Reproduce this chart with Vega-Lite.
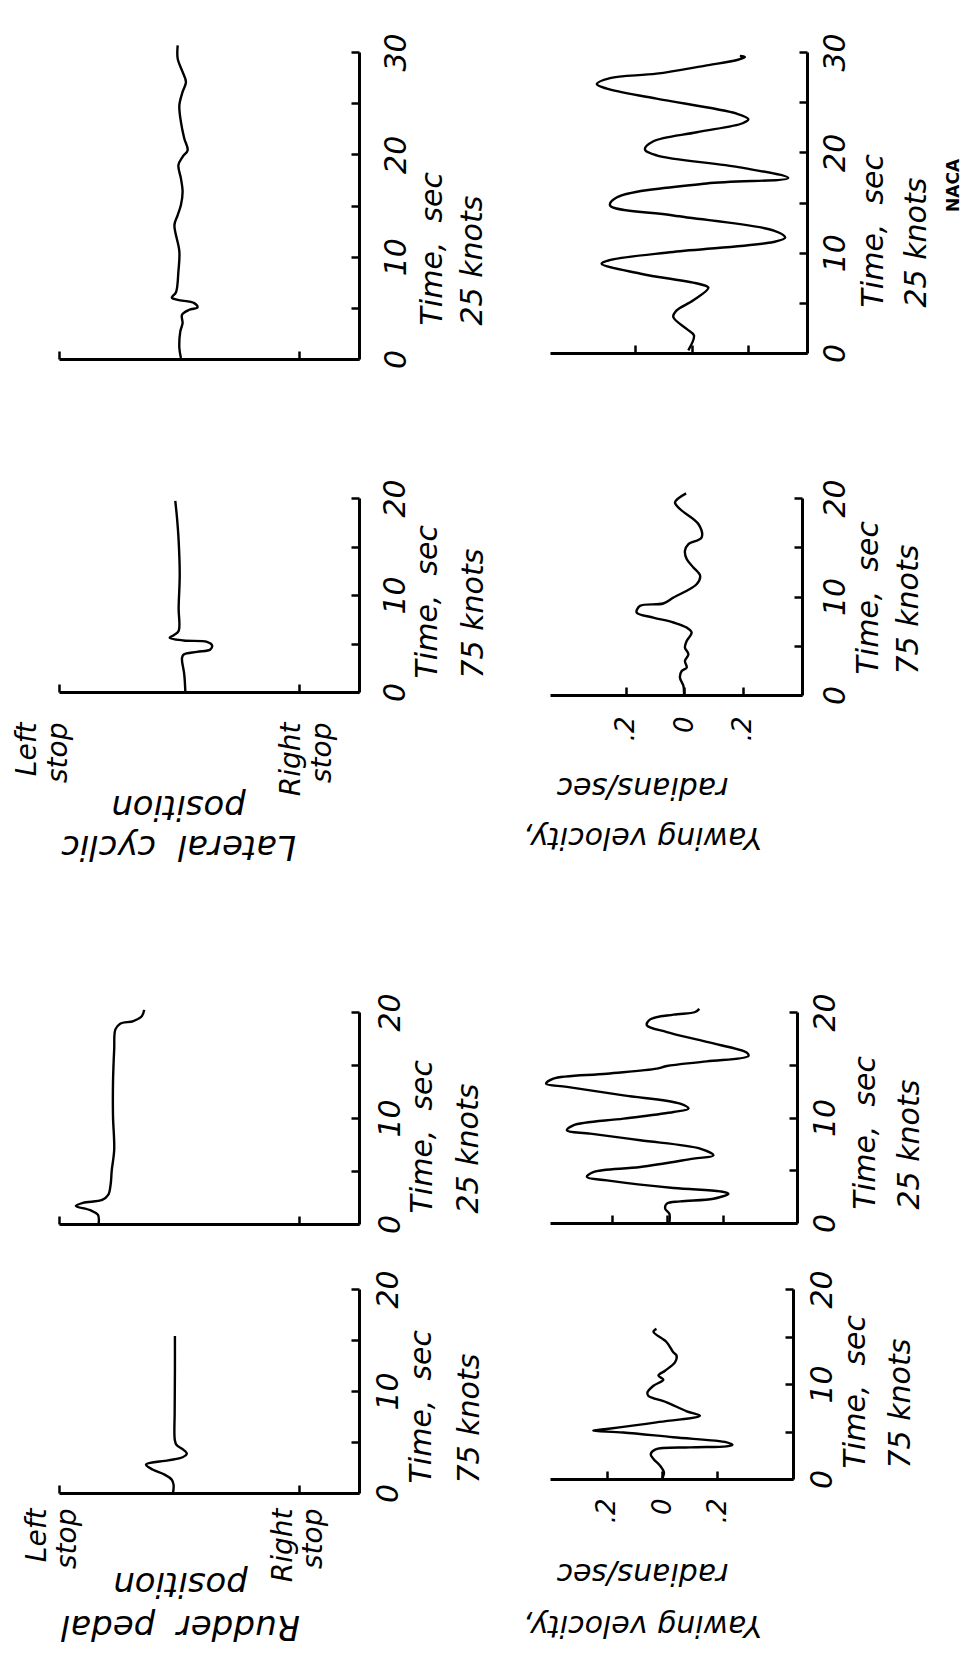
{
  "$schema": "https://vega.github.io/schema/vega-lite/v6.json",
  "padding": {"left": 13, "top": 32, "right": 5, "bottom": 5},
  "background": "white",
  "config": {
    "view": {"stroke": null},
    "axis": {
      "grid": false,
      "domainColor": "black", "domainWidth": 3,
      "tickColor": "black", "tickWidth": 2.5, "tickSize": -8,
      "labelColor": "black", "titleColor": "black",
      "labelFont": "DejaVu Sans", "titleFont": "DejaVu Sans",
      "labelFontStyle": "italic", "titleFontStyle": "italic",
      "labelFontWeight": "normal", "titleFontWeight": "normal",
      "labelFlush": false, "labelOverlap": false, "labelBound": false
    }
  },
  "bounds": "flush",
  "align": "each",
  "columns": 2,
  "spacing": {"row": 65, "column": 191},
  "datasets": {
    "r75": [{"t":0,"v":-0.05},{"t":0.8,"v":-0.045},{"t":1.3,"v":-0.06},{"t":1.8,"v":-0.12},{"t":2.3,"v":-0.22},{"t":2.8,"v":-0.275},{"t":3.2,"v":-0.09},{"t":3.5,"v":0.03},{"t":3.87,"v":0.065},{"t":4.3,"v":0.03},{"t":4.7,"v":-0.02},{"t":5.2,"v":-0.035},{"t":8,"v":-0.036},{"t":12,"v":-0.034},{"t":15.4,"v":-0.034}],
    "r25": [{"t":0,"v":-0.67},{"t":0.85,"v":-0.675},{"t":1.3,"v":-0.74},{"t":1.7,"v":-0.86},{"t":2.0,"v":-0.8},{"t":2.27,"v":-0.64},{"t":2.74,"v":-0.59},{"t":3.7,"v":-0.57},{"t":5.1,"v":-0.56},{"t":7.0,"v":-0.54},{"t":10.2,"v":-0.55},{"t":13.3,"v":-0.55},{"t":16.5,"v":-0.54},{"t":18.36,"v":-0.53},{"t":18.9,"v":-0.49},{"t":19.15,"v":-0.38},{"t":19.6,"v":-0.31},{"t":20.2,"v":-0.29}],
    "y75a": [{"t":0,"v":0},{"t":0.7,"v":0.007},{"t":1.4,"v":-0.007},{"t":2.1,"v":-0.031},{"t":2.6,"v":-0.041},{"t":3.1,"v":-0.025},{"t":3.33,"v":0.102},{"t":3.44,"v":0.235},{"t":3.6,"v":0.256},{"t":3.86,"v":0.235},{"t":4.39,"v":0.041},{"t":4.9,"v":-0.141},{"t":5.09,"v":-0.25},{"t":5.26,"v":-0.201},{"t":5.96,"v":-0.02},{"t":6.67,"v":0.138},{"t":7.12,"v":0.09},{"t":8.07,"v":0.017},{"t":8.77,"v":-0.05},{"t":9.12,"v":-0.053},{"t":9.82,"v":-0.031},{"t":10.46,"v":0.005},{"t":10.88,"v":-0.013},{"t":11.4,"v":0.011},{"t":12.28,"v":0.047},{"t":12.98,"v":0.053},{"t":13.33,"v":0.041},{"t":14.4,"v":0.017},{"t":15.5,"v":-0.031},{"t":15.8,"v":-0.02}],
    "y25a": [{"t":0,"v":0.008},{"t":0.88,"v":0.008},{"t":1.36,"v":-0.007},{"t":1.83,"v":-0.001},{"t":2.05,"v":0.047},{"t":2.3,"v":0.167},{"t":2.78,"v":0.221},{"t":3.0,"v":0.191},{"t":3.32,"v":0.023},{"t":4.04,"v":-0.217},{"t":4.36,"v":-0.289},{"t":4.83,"v":-0.266},{"t":5.31,"v":-0.097},{"t":6.1,"v":0.095},{"t":6.41,"v":0.167},{"t":7.05,"v":0.119},{"t":7.84,"v":-0.097},{"t":8.47,"v":-0.277},{"t":8.78,"v":-0.361},{"t":9.26,"v":-0.338},{"t":9.89,"v":-0.157},{"t":10.52,"v":0.023},{"t":10.84,"v":0.077},{"t":11.31,"v":0.047},{"t":12.1,"v":-0.157},{"t":12.9,"v":-0.361},{"t":13.2,"v":-0.436},{"t":13.68,"v":-0.41},{"t":14.15,"v":-0.217},{"t":14.63,"v":-0.037},{"t":14.88,"v":-0.001},{"t":15.32,"v":0.143},{"t":15.83,"v":0.293},{"t":16.15,"v":0.287},{"t":17.16,"v":0.143},{"t":18.1,"v":-0.001},{"t":18.74,"v":-0.073},{"t":19.3,"v":-0.061},{"t":19.75,"v":0.023},{"t":20.0,"v":0.101},{"t":20.3,"v":0.116}],
    "c75": [{"t":0,"v":0.053},{"t":1.8,"v":0.044},{"t":3.5,"v":0.025},{"t":3.86,"v":0.039},{"t":4.14,"v":0.15},{"t":4.38,"v":0.261},{"t":4.83,"v":0.275},{"t":5.17,"v":0.233},{"t":5.31,"v":0.039},{"t":5.59,"v":-0.078},{"t":5.86,"v":-0.044},{"t":6.28,"v":-0.003},{"t":8.7,"v":-0.003},{"t":12.1,"v":0.006},{"t":15.6,"v":-0.003},{"t":18.0,"v":-0.017},{"t":19.7,"v":-0.031}],
    "y75b": [{"t":0,"v":0},{"t":0.92,"v":-0.002},{"t":1.76,"v":-0.014},{"t":2.44,"v":-0.008},{"t":2.78,"v":0.009},{"t":3.46,"v":0.003},{"t":4.14,"v":0.015},{"t":4.81,"v":0.003},{"t":5.49,"v":0.009},{"t":6.34,"v":0.026},{"t":6.85,"v":0.009},{"t":7.36,"v":-0.036},{"t":7.86,"v":-0.105},{"t":8.37,"v":-0.162},{"t":9.05,"v":-0.15},{"t":9.29,"v":-0.071},{"t":9.9,"v":-0.036},{"t":11.25,"v":0.043},{"t":12.1,"v":0.055},{"t":12.95,"v":0.032},{"t":13.8,"v":0.009},{"t":14.64,"v":0.003},{"t":15.32,"v":0.015},{"t":16.0,"v":0.06},{"t":17.36,"v":0.049},{"t":18.88,"v":-0.014},{"t":19.56,"v":-0.031},{"t":20.47,"v":0.007}],
    "c25": [{"t":0.1,"v":0.016},{"t":1.07,"v":0.003},{"t":2.7,"v":0.011},{"t":3.5,"v":0.03},{"t":4.32,"v":0.025},{"t":4.81,"v":0.086},{"t":5.04,"v":0.154},{"t":5.46,"v":0.127},{"t":5.78,"v":-0.011},{"t":6.0,"v":-0.06},{"t":6.53,"v":-0.025},{"t":8.55,"v":-0.005},{"t":10.5,"v":0.003},{"t":13.1,"v":-0.038},{"t":14.07,"v":-0.011},{"t":15.05,"v":0.016},{"t":16.35,"v":0.03},{"t":17.65,"v":0.016},{"t":18.95,"v":-0.005},{"t":19.76,"v":0.03},{"t":20.4,"v":0.072},{"t":21.55,"v":0.044},{"t":23.17,"v":0.016},{"t":24.8,"v":0.003},{"t":26.1,"v":0.03},{"t":27.07,"v":0.058},{"t":28.05,"v":0.03},{"t":29.35,"v":-0.011},{"t":30.65,"v":-0.011}],
    "y25b": [{"t":0.27,"v":-0.012},{"t":1.76,"v":0.008},{"t":2.4,"v":-0.018},{"t":3.6,"v":-0.065},{"t":4.25,"v":-0.053},{"t":5.25,"v":0.006},{"t":6.5,"v":0.059},{"t":6.85,"v":0.03},{"t":7.9,"v":-0.18},{"t":8.9,"v":-0.318},{"t":9.25,"v":-0.29},{"t":10.07,"v":-0.065},{"t":11.06,"v":0.288},{"t":11.5,"v":0.33},{"t":12.2,"v":0.29},{"t":13.7,"v":-0.065},{"t":14.7,"v":-0.288},{"t":15.5,"v":-0.265},{"t":16.9,"v":0.053},{"t":17.44,"v":0.341},{"t":18.5,"v":0.17},{"t":19.7,"v":-0.124},{"t":20.3,"v":-0.165},{"t":21.1,"v":-0.135},{"t":22.0,"v":0.018},{"t":22.9,"v":0.18},{"t":23.3,"v":0.2},{"t":23.85,"v":0.159},{"t":25.35,"v":-0.124},{"t":26.35,"v":-0.3},{"t":26.8,"v":-0.335},{"t":27.4,"v":-0.288},{"t":27.84,"v":-0.124},{"t":28.67,"v":0.053},{"t":29.2,"v":0.16},{"t":29.5,"v":0.188},{"t":29.6,"v":0.17}],
    "naca": [{"t":16.7,"v":0.926,"label":"NACA"}]
  },
  "concat": [
    {
      "width": 300, "height": 307,
      "data": {"name": "c25"},
      "mark": {"type": "line", "interpolate": "catmull-rom", "color": "black", "strokeWidth": 2.4},
      "encoding": {
        "x": {"field": "v", "type": "quantitative", "scale": {"domain": [-1, 1.5], "nice": false, "zero": false},
          "axis": {"values": [-1, 1], "labels": false, "title": null}},
        "y": {"field": "t", "type": "quantitative", "scale": {"domain": [0, 30], "nice": false, "zero": false},
          "axis": {"orient": "right", "values": [0,5,10,15,20,25,30], "labelExpr": "datum.value % 10 === 0 ? datum.label : ''",
            "labelAngle": 270, "labelAlign": "center", "labelBaseline": "top", "labelPadding": 30, "labelFontSize": 30,
            "title": ["Time,\u00a0 sec", "25 knots"], "titleAngle": 270, "titleAlign": "left", "titleBaseline": "top",
            "titleFontSize": 30, "titleLineHeight": 40, "titlePadding": -34, "titleY": 273}},
        "order": {"field": "t", "type": "quantitative"}
      }
    },
    {
      "width": 257, "height": 301,
      "encoding": {
        "x": {"field": "v", "type": "quantitative", "scale": {"domain": [-0.5, 0.407], "nice": false, "zero": false},
          "axis": {"values": [-0.2, 0, 0.2], "labels": false, "title": null}},
        "y": {"field": "t", "type": "quantitative", "scale": {"domain": [0, 30], "nice": false, "zero": false},
          "axis": {"orient": "right", "values": [0,5,10,15,20,25,30], "labelExpr": "datum.value % 10 === 0 ? datum.label : ''",
            "labelAngle": 270, "labelAlign": "center", "labelBaseline": "top", "labelPadding": 21, "labelFontSize": 30,
            "title": ["Time,\u00a0 sec", "25 knots"], "titleAngle": 270, "titleAlign": "left", "titleBaseline": "top",
            "titleFontSize": 30, "titleLineHeight": 43, "titlePadding": -35, "titleY": 255}}
      },
      "layer": [
        {
          "data": {"name": "y25b"},
          "mark": {"type": "line", "interpolate": "catmull-rom", "color": "black", "strokeWidth": 2.4},
          "encoding": {"order": {"field": "t", "type": "quantitative"}}
        },
        {
          "data": {"name": "naca"},
          "mark": {"type": "text", "angle": 270, "align": "center", "baseline": "middle", "font": "DejaVu Sans", "fontWeight": "bold", "fontSize": 17, "color": "black"},
          "encoding": {"text": {"field": "label"}}
        }
      ]
    },
    {"width": 10, "height": 9, "data": {"values": [{"a": 0}]}, "mark": {"type": "point", "opacity": 0}},
    {"width": 10, "height": 9, "data": {"values": [{"a": 0}]}, "mark": {"type": "point", "opacity": 0}},
    {
      "width": 300, "height": 194,
      "data": {"name": "c75"},
      "mark": {"type": "line", "interpolate": "catmull-rom", "color": "black", "strokeWidth": 2.4},
      "encoding": {
        "x": {"field": "v", "type": "quantitative", "scale": {"domain": [-1, 1.5], "nice": false, "zero": false},
          "axis": {"values": [-1, 1], "labelExpr": "datum.value < 0 ? ['Left', 'stop'] : ['Right', 'stop']",
            "labelAngle": 270, "labelAlign": "right", "labelBaseline": "middle", "labelPadding": 38, "labelFontSize": 28, "labelLineHeight": 31,
            "labelOffset": {"condition": {"test": "datum.value < 0", "value": -32}, "value": -8},
            "title": ["Lateral\u00a0 cyclic", "position"], "titleAngle": 180, "titleAlign": "center", "titleBaseline": "bottom",
            "titleFontSize": 34, "titleLineHeight": 40, "titlePadding": 33, "titleX": 119}},
        "y": {"field": "t", "type": "quantitative", "scale": {"domain": [0, 20], "nice": false, "zero": false},
          "axis": {"orient": "right", "values": [0,5,10,15,20], "labelExpr": "datum.value % 10 === 0 ? datum.label : ''",
            "labelAngle": 270, "labelAlign": "center", "labelBaseline": "top", "labelPadding": 29, "labelFontSize": 30,
            "title": ["Time,\u00a0 sec", "75 knots"], "titleAngle": 270, "titleAlign": "left", "titleBaseline": "top",
            "titleFontSize": 30, "titleLineHeight": 46, "titlePadding": -44, "titleY": 180}},
        "order": {"field": "t", "type": "quantitative"}
      }
    },
    {
      "width": 252, "height": 197,
      "data": {"name": "y75b"},
      "mark": {"type": "line", "interpolate": "catmull-rom", "color": "black", "strokeWidth": 2.4},
      "encoding": {
        "x": {"field": "v", "type": "quantitative", "scale": {"domain": [-0.458, 0.403], "nice": false, "zero": false},
          "axis": {"values": [-0.2, 0, 0.2], "labelExpr": "abs(datum.value) < 0.01 ? '0' : '.2'",
            "labelAngle": 270, "labelAlign": "right", "labelBaseline": "middle", "labelPadding": 29, "labelFontSize": 26,
            "title": ["Yawing velocity,", "radians/sec"], "titleAngle": 180, "titleAlign": "center", "titleBaseline": "bottom",
            "titleFontSize": 30, "titleLineHeight": 50, "titlePadding": 81, "titleX": 92}},
        "y": {"field": "t", "type": "quantitative", "scale": {"domain": [0, 20], "nice": false, "zero": false},
          "axis": {"orient": "right", "values": [0,5,10,15,20], "labelExpr": "datum.value % 10 === 0 ? datum.label : ''",
            "labelAngle": 270, "labelAlign": "center", "labelBaseline": "top", "labelPadding": 26, "labelFontSize": 30,
            "title": ["Time,\u00a0 sec", "75 knots"], "titleAngle": 270, "titleAlign": "left", "titleBaseline": "top",
            "titleFontSize": 30, "titleLineHeight": 40, "titlePadding": -37, "titleY": 176}},
        "order": {"field": "t", "type": "quantitative"}
      }
    },
    {"width": 10, "height": 187, "data": {"values": [{"a": 0}]}, "mark": {"type": "point", "opacity": 0}},
    {"width": 10, "height": 187, "data": {"values": [{"a": 0}]}, "mark": {"type": "point", "opacity": 0}},
    {
      "width": 300, "height": 212,
      "data": {"name": "r25"},
      "mark": {"type": "line", "interpolate": "catmull-rom", "color": "black", "strokeWidth": 2.4},
      "encoding": {
        "x": {"field": "v", "type": "quantitative", "scale": {"domain": [-1, 1.5], "nice": false, "zero": false},
          "axis": {"values": [-1, 1], "labels": false, "title": null}},
        "y": {"field": "t", "type": "quantitative", "scale": {"domain": [0, 20], "nice": false, "zero": false},
          "axis": {"orient": "right", "values": [0,5,10,15,20], "labelExpr": "datum.value % 10 === 0 ? datum.label : ''",
            "labelAngle": 270, "labelAlign": "center", "labelBaseline": "top", "labelPadding": 24, "labelFontSize": 30,
            "title": ["Time,\u00a0 sec", "25 knots"], "titleAngle": 270, "titleAlign": "left", "titleBaseline": "top",
            "titleFontSize": 30, "titleLineHeight": 46, "titlePadding": -44, "titleY": 201}},
        "order": {"field": "t", "type": "quantitative"}
      }
    },
    {
      "width": 247, "height": 211,
      "data": {"name": "y25a"},
      "mark": {"type": "line", "interpolate": "catmull-rom", "color": "black", "strokeWidth": 2.4},
      "encoding": {
        "x": {"field": "v", "type": "quantitative", "scale": {"domain": [-0.422, 0.468], "nice": false, "zero": false},
          "axis": {"values": [-0.2, 0, 0.2], "labels": false, "title": null}},
        "y": {"field": "t", "type": "quantitative", "scale": {"domain": [0, 20], "nice": false, "zero": false},
          "axis": {"orient": "right", "values": [0,5,10,15,20], "labelExpr": "datum.value % 10 === 0 ? datum.label : ''",
            "labelAngle": 270, "labelAlign": "center", "labelBaseline": "top", "labelPadding": 21, "labelFontSize": 30,
            "title": ["Time,\u00a0 sec", "25 knots"], "titleAngle": 270, "titleAlign": "left", "titleBaseline": "top",
            "titleFontSize": 30, "titleLineHeight": 44, "titlePadding": -34, "titleY": 197}},
        "order": {"field": "t", "type": "quantitative"}
      }
    },
    {
      "width": 300, "height": 204,
      "data": {"name": "r75"},
      "mark": {"type": "line", "interpolate": "catmull-rom", "color": "black", "strokeWidth": 2.4},
      "encoding": {
        "x": {"field": "v", "type": "quantitative", "scale": {"domain": [-1, 1.5], "nice": false, "zero": false},
          "axis": {"values": [-1, 1], "labelExpr": "datum.value < 0 ? ['Left', 'stop'] : ['Right', 'stop']",
            "labelAngle": 270, "labelAlign": "right", "labelBaseline": "middle", "labelPadding": 23, "labelFontSize": 28, "labelLineHeight": 30,
            "labelOffset": {"condition": {"test": "datum.value < 0", "value": -22}, "value": -16},
            "title": ["Rudder\u00a0 pedal", "position"], "titleAngle": 180, "titleAlign": "center", "titleBaseline": "bottom",
            "titleFontSize": 34, "titleLineHeight": 43, "titlePadding": 27, "titleX": 121}},
        "y": {"field": "t", "type": "quantitative", "scale": {"domain": [0, 20], "nice": false, "zero": false},
          "axis": {"orient": "right", "values": [0,5,10,15,20], "labelExpr": "datum.value % 10 === 0 ? datum.label : ''",
            "labelAngle": 270, "labelAlign": "center", "labelBaseline": "top", "labelPadding": 22, "labelFontSize": 30,
            "title": ["Time,\u00a0 sec", "75 knots"], "titleAngle": 270, "titleAlign": "left", "titleBaseline": "top",
            "titleFontSize": 30, "titleLineHeight": 48, "titlePadding": -45, "titleY": 194}},
        "order": {"field": "t", "type": "quantitative"}
      }
    },
    {
      "width": 243, "height": 190,
      "data": {"name": "y75a"},
      "mark": {"type": "line", "interpolate": "catmull-rom", "color": "black", "strokeWidth": 2.4},
      "encoding": {
        "x": {"field": "v", "type": "quantitative", "scale": {"domain": [-0.407, 0.476], "nice": false, "zero": false},
          "axis": {"values": [-0.2, 0, 0.2], "labelExpr": "abs(datum.value) < 0.01 ? '0' : '.2'",
            "labelAngle": 270, "labelAlign": "right", "labelBaseline": "middle", "labelPadding": 27, "labelFontSize": 26,
            "title": ["Yawing velocity,", "radians/sec"], "titleAngle": 180, "titleAlign": "center", "titleBaseline": "bottom",
            "titleFontSize": 30, "titleLineHeight": 52, "titlePadding": 87, "titleX": 92}},
        "y": {"field": "t", "type": "quantitative", "scale": {"domain": [0, 20], "nice": false, "zero": false},
          "axis": {"orient": "right", "values": [0,5,10,15,20], "labelExpr": "datum.value % 10 === 0 ? datum.label : ''",
            "labelAngle": 270, "labelAlign": "center", "labelBaseline": "top", "labelPadding": 22, "labelFontSize": 30,
            "title": ["Time,\u00a0 sec", "75 knots"], "titleAngle": 270, "titleAlign": "left", "titleBaseline": "top",
            "titleFontSize": 30, "titleLineHeight": 45, "titlePadding": -42, "titleY": 179}},
        "order": {"field": "t", "type": "quantitative"}
      }
    }
  ]
}
